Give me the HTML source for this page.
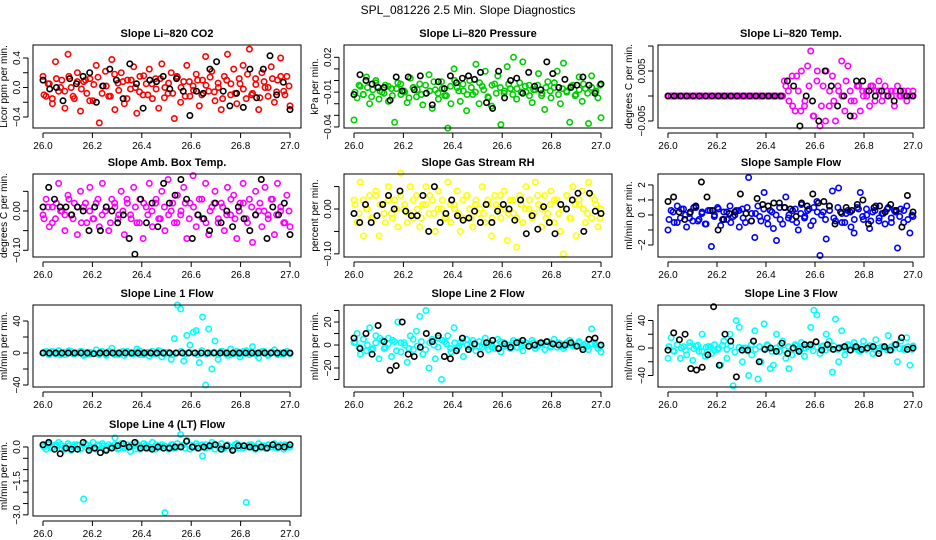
<!DOCTYPE html>
<html><head><meta charset="utf-8"><style>
html,body{margin:0;padding:0;background:#fff;}
svg{display:block;font-family:"Liberation Sans",Arial,sans-serif;}
</style></head><body>
<svg id="chart" width="936" height="540" viewBox="0 0 936 540" xmlns="http://www.w3.org/2000/svg">
<rect width="936" height="540" fill="#fff"/>
<text x="468" y="14" text-anchor="middle" font-size="12">SPL_081226  2.5 Min. Slope Diagnostics</text>
</svg>
<script>
const xTicks=[26.0,26.2,26.4,26.6,26.8,27.0];
const co2Col=[0.15,-0.12,0.05,-0.22,0.35,-0.05,0.1,-0.28,0.45,0.0,-0.15,0.2,-0.32,0.08,-0.08,0.12,-0.18,0.3,-0.48,0.02,0.22,-0.12,0.38,-0.3,0.06,0.2,-0.22,0.1,-0.02,0.28,-0.35,0.15,-0.1,0.05,0.25,-0.15,0.12,-0.28,0.32,0.0,-0.08,0.2,-0.42,0.14,-0.2,0.08,0.3,-0.12,0.02,0.18,-0.25,0.1,0.42,-0.05,0.22,-0.18,0.06,-0.3,0.15,0.45,-0.1,0.25,-0.22,0.05,0.3,-0.15,0.52,-0.08,0.12,-0.3,0.2,0.0,-0.12,0.28,-0.2,0.1,0.4,-0.05,0.15,-0.25];
const co2Core=[-0.1,0.05,-0.15,0.12,0.0,-0.05,0.15,-0.12,0.08,-0.02,0.1,-0.18,0.04,0.14,-0.08,0.02,-0.12,0.18,-0.04,0.08,-0.15,0.1,0.0,-0.06,0.16,-0.1,0.05,-0.02,0.12,-0.14,0.06,-0.08,0.15,0.0,-0.12,0.08,-0.04,0.1,-0.1,0.03,0.14,-0.06,0.0,-0.15,0.1,0.05,-0.08,0.12,-0.02,0.18,-0.1,0.04,-0.14,0.08,0.0,0.12,-0.06,0.15,-0.1,0.02];
const co2Blk=[0.1,-0.02,0.0,-0.18,0.12,0.05,0.15,0.2,-0.2,0.02,0.25,0.1,-0.15,0.32,0.05,-0.28,0.1,0.08,0.15,-0.02,0.12,-0.05,-0.38,-0.05,-0.08,0.25,0.35,-0.05,-0.25,-0.08,-0.27,0.25,-0.14,0.25,0.43,-0.1,0.07,-0.3];
const presCol=[-0.034,-0.015,-0.005,-0.012,0.003,-0.02,-0.008,0.0,-0.016,-0.01,-0.004,-0.018,-0.007,-0.036,-0.002,-0.012,-0.009,-0.019,0.002,-0.006,-0.014,-0.003,-0.021,-0.011,0.005,-0.024,-0.008,-0.016,-0.001,-0.013,-0.041,-0.02,0.01,-0.006,-0.018,-0.009,-0.026,0.0,-0.012,0.014,-0.02,-0.005,0.008,-0.015,-0.022,-0.003,0.004,-0.038,-0.011,0.012,-0.007,0.02,-0.016,-0.002,0.016,-0.01,-0.004,-0.019,-0.008,0.006,-0.013,-0.025,-0.001,-0.015,-0.006,0.008,-0.02,0.015,-0.009,-0.036,-0.004,-0.012,0.003,-0.018,-0.007,-0.037,0.004,-0.01,-0.015,-0.032];
const presCore=[-0.01,-0.004,-0.012,-0.006,-0.014,-0.002,-0.009,-0.011,-0.005,-0.013,-0.007,-0.003,-0.01,-0.015,-0.006,-0.008,-0.012,-0.004,-0.009,-0.001,-0.011,-0.007,-0.013,-0.005,0.0,-0.009,-0.003,-0.012,-0.006,-0.01,-0.002,-0.008,-0.014,-0.004,-0.011,-0.006,-0.009,-0.003,-0.012,-0.007,-0.01,-0.005,-0.013,-0.008,-0.004,-0.011,-0.006,-0.009,-0.002,-0.012,-0.007,-0.01,-0.005,-0.013,-0.008,-0.003,-0.011,-0.006,-0.009,-0.004];
const presBlk=[-0.012,0.005,0.0,-0.003,-0.006,-0.006,-0.017,0.003,-0.009,0.003,-0.008,0.004,-0.011,-0.021,-0.001,-0.007,0.004,-0.002,0.002,0.004,0.001,0.007,-0.019,-0.024,0.008,-0.015,0.0,0.002,-0.011,0.007,-0.005,-0.008,0.016,0.006,-0.006,0.001,-0.006,-0.004,0.003,-0.004,-0.011,-0.003];
const tempCol=[0,0,0,0,0,0,0,0,0,0,0,0,0,0,0,0,0,0,0,0,0,0,0,0,0,0,0,0,0,0,0,0,0,0,0,0,0,0,0.002,-0.001,0.004,-0.003,0.001,0.005,-0.002,0.006,0.009,-0.004,0.003,-0.006,0.002,0.005,-0.002,0.004,-0.005,0.001,0.007,-0.003,0.006,-0.001,-0.004,0.002,-0.003,0.0,0.001,-0.002,0.002,0.001,0.003,-0.001,0.002,0.0,0.001,-0.002,0.002,0.0,0.001,-0.001,0.0,0.001];
const tempCore=[0,0,0,0,0,0,0,0,0,0,0,0,0,0,0,0,0,0,0,0,0,0,0,0,0,0,0,0,0.003,0.001,-0.002,0.004,-0.003,-0.001,0.002,-0.004,0.005,-0.002,-0.005,0.001,-0.001,0.002,0.0,0.003,0.001,-0.001,0.002,0.001,0.0,0.002,-0.001,0.001,0.0,0.001,0.0,0.001,0.0,0.0,0.001,0.0];
const tempBlk=[0,0,0,0,0,0,0,0,0,0,0,0,0,0,0,0,0,0,0,0.003,0.002,-0.006,0.0,-0.001,-0.005,0.005,0.002,-0.002,0.0,-0.004,0.003,0.003,0.001,0.0,0.001,0.0,-0.001,0.001,0.0,0.0];
const ambCol=[-0.01,0.03,-0.04,0.01,-0.02,0.07,0.0,-0.05,0.04,-0.01,0.02,-0.06,0.05,0.01,-0.03,0.06,-0.02,0.02,-0.04,0.07,0.0,-0.05,0.03,0.01,-0.02,0.05,-0.06,0.02,-0.01,0.06,-0.03,0.03,-0.07,0.01,0.07,-0.04,0.02,-0.02,0.05,-0.05,0.08,0.0,-0.03,0.04,-0.01,0.06,-0.07,0.02,0.09,-0.04,0.03,-0.02,0.07,-0.06,0.01,0.05,-0.03,0.02,-0.05,0.06,-0.01,0.04,-0.07,0.02,0.07,-0.02,0.03,-0.08,0.05,0.0,-0.04,0.06,-0.01,0.03,-0.06,0.07,0.0,-0.03,0.04,-0.04];
const ambCore=[-0.02,0.01,-0.03,0.02,0.0,-0.01,0.03,-0.02,0.01,-0.03,0.02,0.0,-0.02,0.03,-0.01,0.01,-0.03,0.02,-0.01,0.0,0.03,-0.02,0.01,-0.03,0.02,-0.01,0.0,0.03,-0.02,0.01,-0.01,0.02,-0.03,0.0,0.02,-0.02,0.01,-0.01,0.03,-0.03,0.0,0.02,-0.02,0.01,-0.01,0.03,-0.02,0.0,0.02,-0.03,0.01,-0.01,0.02,0.0,-0.02,0.03,-0.01,0.01,-0.03,0.0];
const ambBlk=[0.01,0.06,0.03,0.01,0.01,-0.01,0.01,0.0,-0.05,0.01,-0.05,0.01,0.0,-0.03,-0.01,-0.07,-0.11,0.03,-0.03,0.02,-0.04,0.07,0.02,0.04,0.08,0.03,-0.07,-0.01,-0.02,-0.05,0.02,-0.03,0.0,-0.04,0.01,-0.02,-0.05,-0.01,0.08,-0.07,0.01,-0.01,0.02,-0.06];
const rhCol=[0.02,-0.03,0.06,-0.06,0.0,0.03,-0.02,0.04,-0.06,0.01,-0.03,0.05,-0.01,0.02,-0.04,0.08,0.0,-0.03,0.05,-0.02,0.03,-0.04,0.01,0.05,-0.01,0.02,-0.05,0.04,0.0,-0.02,0.06,-0.03,0.01,0.04,-0.05,-0.02,0.03,0.0,-0.04,0.02,-0.01,0.05,-0.03,0.01,-0.06,0.03,0.0,-0.02,0.04,-0.07,0.02,-0.01,-0.085,0.03,-0.03,0.05,0.0,-0.02,0.06,0.01,-0.04,0.03,-0.01,0.04,-0.03,0.02,-0.05,-0.1,0.03,-0.02,0.05,-0.06,0.01,0.04,-0.03,0.06,-0.02,0.02,-0.04,0.0];
const rhCore=[0.01,-0.01,0.02,0.0,-0.02,0.03,0.01,-0.01,0.02,-0.02,0.0,0.03,0.01,-0.01,0.02,0.0,-0.02,0.01,0.03,-0.01,0.0,0.02,-0.02,0.01,0.0,-0.01,0.02,0.03,-0.02,0.01,0.0,-0.01,0.02,-0.02,0.01,0.03,0.0,-0.01,0.02,-0.02,0.01,0.0,0.02,-0.01,0.03,0.0,-0.02,0.01,0.02,-0.01,0.0,0.03,-0.02,0.01,0.02,0.0,-0.01,0.03,0.01,-0.02];
const rhBlk=[-0.01,-0.03,0.01,-0.03,-0.015,0.01,0.03,0.0,0.04,-0.005,-0.015,-0.015,0.03,-0.05,0.05,-0.03,-0.01,0.02,-0.015,-0.025,-0.02,-0.005,-0.03,0.01,-0.03,-0.005,0.01,0.0,-0.025,0.02,-0.055,-0.015,-0.045,0.005,-0.03,-0.055,0.01,0.0,0.02,0.035,-0.05,0.035,-0.005,-0.01];
const sampCol=[-1.0,0.3,-0.5,0.6,-0.2,0.4,-0.8,0.1,-0.4,0.5,-0.3,0.2,-0.6,0.3,-2.1,0.0,0.5,-0.7,0.2,-0.3,0.6,-0.1,0.3,-0.8,0.4,-0.5,2.5,0.1,-1.5,0.6,-0.4,1.5,-0.2,0.3,-0.9,-1.7,0.5,-0.6,1.2,0.0,-0.3,0.4,-1.0,0.7,-0.2,0.3,-0.7,0.5,0.9,-2.7,0.2,-1.6,0.6,1.6,-0.4,1.8,0.1,-0.5,0.3,-0.8,-1.2,0.5,1.5,-0.3,0.4,-0.9,0.2,0.6,-0.4,0.1,-0.6,0.5,-0.2,0.3,-2.2,0.4,-0.5,0.6,-1.2,-0.1];
const sampCore=[-0.3,0.2,-0.5,0.4,0.0,-0.2,0.5,-0.4,0.1,-0.6,0.3,-0.1,0.4,-0.3,0.2,-0.5,0.0,0.3,-0.2,0.5,-0.4,0.1,-0.1,0.4,-0.6,0.2,0.0,-0.3,0.5,-0.2,0.3,-0.5,0.1,-0.1,0.4,-0.4,0.2,0.0,-0.3,0.3,-0.2,0.5,-0.5,0.1,0.2,-0.3,0.4,-0.1,0.0,-0.4,0.3,-0.2,0.1,0.4,-0.5,0.2,-0.1,0.3,-0.3,0.0];
const sampBlk=[0.9,1.2,0.2,-0.3,0.2,0.6,2.2,1.2,0.3,-1.0,-0.3,0.1,0.2,1.4,0.1,-0.4,1.1,0.7,0.6,0.8,0.8,0.5,0.4,-0.1,0.8,0.6,1.4,0.8,0.9,0.6,-0.6,0.2,0.5,0.3,0.7,1.0,-0.6,0.5,0.6,0.2,0.7,0.3,-0.8,1.3,0.2];
const l1Col=[0,2,-2,1,-1,3,0,-2,1,2,-1,0,2,-3,1,-1,0,4,-2,1,-1,2,6,-2,0,1,-3,2,0,-1,5,-2,1,0,-4,2,-1,3,-5,1,0,-8,18,60,55,-10,22,10,26,28,-12,45,-40,30,-20,15,-8,2,0,-3,5,-1,2,-5,0,3,-2,8,-1,-6,2,0,-3,1,4,-2,0,-1,2,-1];
const l1Core=[1,-1,2,0,-2,1,3,-1,0,2,-2,1,0,-1,2,-3,1,0,-2,2,1,-1,0,3,-2,1,-1,0,2,-1,1,-2,0,2,-1,1,0,-2,3,-1,0,1,-1,2,0,-2,1,-1,2,0,1,-1,0,2,-2,1,0,-1,1,0];
const l1Blk=[0,0,0,0,0,0,0,0,-1,0,0,0,0,0,0,0,0,0,0,0,0,0,0,0,0,0,0,0,0,0,0,0,0,0,0,0,0,0,0,0];
const l2Col=[2,10,-8,5,-5,15,-3,8,-12,4,-2,6,-10,3,20,-6,2,-15,8,-4,12,25,-8,30,-20,5,-12,6,-30,3,8,-6,15,-3,2,-10,5,-2,4,-5,3,-2,6,-4,1,-3,5,-6,2,0,-3,4,-2,3,-5,2,-1,4,-3,1,2,-4,3,-1,5,-2,1,-3,2,4,-1,0,3,-2,1,-4,14,2,-3,-6];
const l2Core=[3,-2,5,0,-4,2,6,-3,1,4,-5,2,0,-3,5,-1,3,-4,2,0,-2,4,1,-3,2,-1,3,0,-2,1,-1,2,0,-2,1,3,-1,0,2,-2,1,0,-1,2,-1,1,0,-2,1,2,-1,0,1,-1,2,0,-1,1,0,-1];
const l2Blk=[6,-3,10,-8,17,3,-22,-18,20,-8,-10,-2,10,3,8,-10,-12,-5,6,-4,1,-8,2,4,-3,1,-2,2,4,-1,0,2,3,1,0,0,2,-1,-4,5,6,0];
const l3Col=[-15,15,-5,5,-15,2,-10,8,-18,3,-5,20,-12,2,-8,5,-2,-25,10,-15,20,-55,40,30,-20,0,-40,-10,25,-45,-20,35,5,-30,-25,20,-5,10,-15,-30,-10,5,-3,8,-12,2,30,55,48,-8,3,20,10,-35,42,-20,25,-10,5,-3,8,0,-5,10,-2,3,-8,12,-4,2,0,18,-3,5,-20,10,-2,15,-25,3];
const l3Core=[2,-4,5,0,-3,3,-1,4,-5,1,2,-3,0,4,-2,3,-6,1,0,-4,5,-2,2,-1,3,-5,0,4,-3,2,-1,3,-2,0,4,-4,1,2,-3,0,3,-2,1,-1,4,0,-3,2,-1,3,-2,0,1,-3,2,4,-1,0,2,-2];
const l3Blk=[-3,22,12,20,-30,-32,-28,-10,60,-25,20,10,-42,-3,-3,10,-20,-2,0,-5,7,-8,0,-5,5,5,9,-3,5,-2,0,2,-3,2,-2,0,2,-8,2,-3,5,15,-2,0];
const l4Col=[0.05,-0.1,0.15,-0.05,0.1,0.2,-0.1,0.0,0.15,-0.15,0.1,0.05,-0.1,-2.3,0.1,-0.05,0.2,-0.1,0.05,0.15,-0.1,0.1,0.0,0.4,-0.1,0.15,-0.05,0.1,-0.2,0.05,0.15,-0.1,0.0,0.1,-0.05,0.2,-0.1,0.05,0.1,-2.9,0.0,0.1,-0.05,0.15,0.55,0.1,0.3,-0.1,0.05,0.15,-0.05,-0.4,0.1,0.0,0.2,-0.1,0.05,0.15,-0.05,0.1,0.0,-0.1,0.15,0.05,-0.05,-2.45,0.1,0.0,-0.1,0.15,0.05,-0.05,0.1,0.0,0.15,-0.05,0.1,-0.1,0.05,0.0];
const l4Core=[0.0,0.1,-0.05,0.05,0.1,-0.1,0.05,0.0,0.1,-0.05,0.15,0.0,-0.05,0.1,0.05,-0.1,0.0,0.1,-0.05,0.05,0.0,0.1,-0.1,0.05,0.15,0.0,-0.05,0.1,0.0,0.05,-0.1,0.1,0.0,0.05,-0.05,0.1,0.0,0.05,0.1,-0.05,0.0,0.1,0.05,-0.1,0.05,0.0,0.1,-0.05,0.05,0.0,0.1,-0.05,0.0,0.05,0.1,0.0,-0.05,0.05,0.1,0.0];
const l4Blk=[0.1,0.2,-0.1,-0.3,-0.05,-0.1,-0.1,0.2,-0.15,-0.05,-0.25,-0.15,-0.05,0.05,0.15,0.0,0.2,-0.05,-0.05,-0.1,0.0,-0.05,-0.05,0.0,0.0,0.25,0.0,-0.05,0.0,0.05,0.1,-0.1,0.05,-0.15,0.05,0.05,0.0,-0.05,0.0,-0.05,0.1,0.0,0.0,0.1];

const panels=[
 {name:'co2',title:'Slope Li\u2013820 CO2',ylab:'Licor ppm per min.',col:0,row:0,ymin:-0.549,ymax:0.576,ticks:[-0.4,-0.2,0,0.2,0.4],labels:[[-0.4,'\u22120.4'],[0,'0.0'],[0.4,'0.4']],color:'#ff0000',c:co2Col,d:co2Core,b:co2Blk},
 {name:'pressure',title:'Slope Li\u2013820 Pressure',ylab:'kPa per min.',col:1,row:0,ymin:-0.0409,ymax:0.0306,ticks:[-0.04,-0.03,-0.02,-0.01,0,0.01,0.02],labels:[[-0.04,'\u22120.04'],[-0.01,'\u22120.01'],[0.02,'0.02']],color:'#00cd00',c:presCol,d:presCore,b:presBlk},
 {name:'temp',title:'Slope Li\u2013820 Temp.',ylab:'degrees C per min.',col:2,row:0,ymin:-0.0064,ymax:0.0102,ticks:[-0.005,0,0.005,0.01],labels:[[-0.005,'\u22120.005'],[0.005,'0.005']],color:'#ff00ff',c:tempCol,d:tempCore,b:tempBlk},
 {name:'amb-box-temp',title:'Slope Amb. Box Temp.',ylab:'degrees C per min.',col:0,row:1,ymin:-0.117,ymax:0.094,ticks:[-0.1,-0.05,0,0.05],labels:[[-0.1,'\u22120.10'],[0,'0.00']],color:'#ff00ff',c:ambCol,d:ambCore,b:ambBlk},
 {name:'gas-stream-rh',title:'Slope Gas Stream RH',ylab:'percent per min.',col:1,row:1,ymin:-0.107,ymax:0.078,ticks:[-0.1,-0.05,0,0.05],labels:[[-0.1,'\u22120.10'],[0,'0.00']],color:'#ffff00',c:rhCol,d:rhCore,b:rhBlk},
 {name:'sample-flow',title:'Slope Sample Flow',ylab:'ml/min per min.',col:2,row:1,ymin:-2.8,ymax:2.73,ticks:[-2,-1,0,1,2],labels:[[-2,'\u22122'],[0,'0'],[1,'1'],[2,'2']],color:'#0000ff',c:sampCol,d:sampCore,b:sampBlk},
 {name:'line1-flow',title:'Slope Line 1 Flow',ylab:'ml/min per min.',col:0,row:2,ymin:-42.5,ymax:60,ticks:[-40,-20,0,20,40],labels:[[-40,'\u221240'],[0,'0'],[40,'40']],color:'#00ffff',c:l1Col,d:l1Core,b:l1Blk},
 {name:'line2-flow',title:'Slope Line 2 Flow',ylab:'ml/min per min.',col:1,row:2,ymin:-36.5,ymax:34.8,ticks:[-30,-20,-10,0,10,20,30],labels:[[-20,'\u221220'],[0,'0'],[20,'20']],color:'#00ffff',c:l2Col,d:l2Core,b:l2Blk},
 {name:'line3-flow',title:'Slope Line 3 Flow',ylab:'ml/min per min.',col:2,row:2,ymin:-56.7,ymax:62.5,ticks:[-40,-20,0,20,40],labels:[[-40,'\u221240'],[0,'0'],[40,'40']],color:'#00ffff',c:l3Col,d:l3Core,b:l3Blk},
 {name:'line4-flow',title:'Slope Line 4 (LT) Flow',ylab:'ml/min per min.',col:0,row:3,ymin:-3.05,ymax:0.485,ticks:[-3,-2.5,-2,-1.5,-1,-0.5,0],labels:[[-3,'\u22123.0'],[-1.5,'\u22121.5'],[0,'0.0']],color:'#00ffff',c:l4Col,d:l4Core,b:l4Blk}
];
const colLeft=[33,344,658], colW=[268,268,266];
const rowTop=[45,174,305,436], rowH=[83,83,82,80];
const svg=document.getElementById('chart');
const NS='http://www.w3.org/2000/svg';
function mk(tag,attrs,parent){const e=document.createElementNS(NS,tag);for(const k in attrs)e.setAttribute(k,attrs[k]);(parent||svg).appendChild(e);return e;}
panels.forEach(p=>{
 const L=colLeft[p.col],W=colW[p.col],T=rowTop[p.row],H=rowH[p.row];
 const g=mk('g',{});
 
 
 const x0=L+10,x1=L+W-11;
 const xs=v=>x0+(v-26)/(27-26)*(x1-x0);
 const ys=v=>T+H-(v-p.ymin)/(p.ymax-p.ymin)*H;
 const t=mk('text',{x:L+W/2,y:T-8,'text-anchor':'middle','font-size':'11','font-weight':'bold'},g);
 t.textContent=p.title;
 
 
 const pts=mk('g',{fill:'none','stroke-width':'1.6'},g);
 
 
 [[p.d,p.color,0.004],[p.c,p.color,0],[p.b,'#000',0]].forEach(([arr,col,off])=>{
  arr.forEach((v,i)=>{
   const tm=26+off+i/(arr.length-1)*(1-2*off);
   const c=mk('circle',{cx:xs(tm).toFixed(1),cy:ys(v).toFixed(1),r:'2.7',stroke:col},pts);
   
   
  });
 });
 const box=mk('rect',{x:L,y:T,width:W,height:H,fill:'none',stroke:'#000','stroke-width':'1'},g);
 
 
 const xa=mk('g',{},g);
 
 
 mk('line',{x1:xs(26),x2:xs(27),y1:T+H+5,y2:T+H+5,stroke:'#000'},xa);
 xTicks.forEach(v=>{
  mk('line',{x1:xs(v),x2:xs(v),y1:T+H+5,y2:T+H+10,stroke:'#000'},xa);
  const l=mk('text',{x:xs(v),y:T+H+21,'text-anchor':'middle','font-size':'10'},xa);
  l.textContent=v.toFixed(1);
  
  
 });
 const ya=mk('g',{},g);
 
 
 const tmin=Math.min(...p.ticks),tmax=Math.max(...p.ticks);
 mk('line',{x1:L-5,x2:L-5,y1:ys(tmin),y2:ys(tmax),stroke:'#000'},ya);
 p.ticks.forEach(v=>mk('line',{x1:L-10,x2:L-5,y1:ys(v),y2:ys(v),stroke:'#000'},ya));
 p.labels.forEach(([v,s])=>{
  const yy=ys(v);
  const l=mk('text',{x:L-13,y:yy,'text-anchor':'middle','font-size':'10',transform:`rotate(-90 ${L-13} ${yy})`},ya);
  l.textContent=s;
  
  
 });
 const yl=mk('text',{x:L-26,y:T+H/2,'text-anchor':'middle','font-size':'10',transform:`rotate(-90 ${L-26} ${T+H/2})`},g);
 yl.textContent=p.ylab;
 
 
});
</script>
</body></html>
